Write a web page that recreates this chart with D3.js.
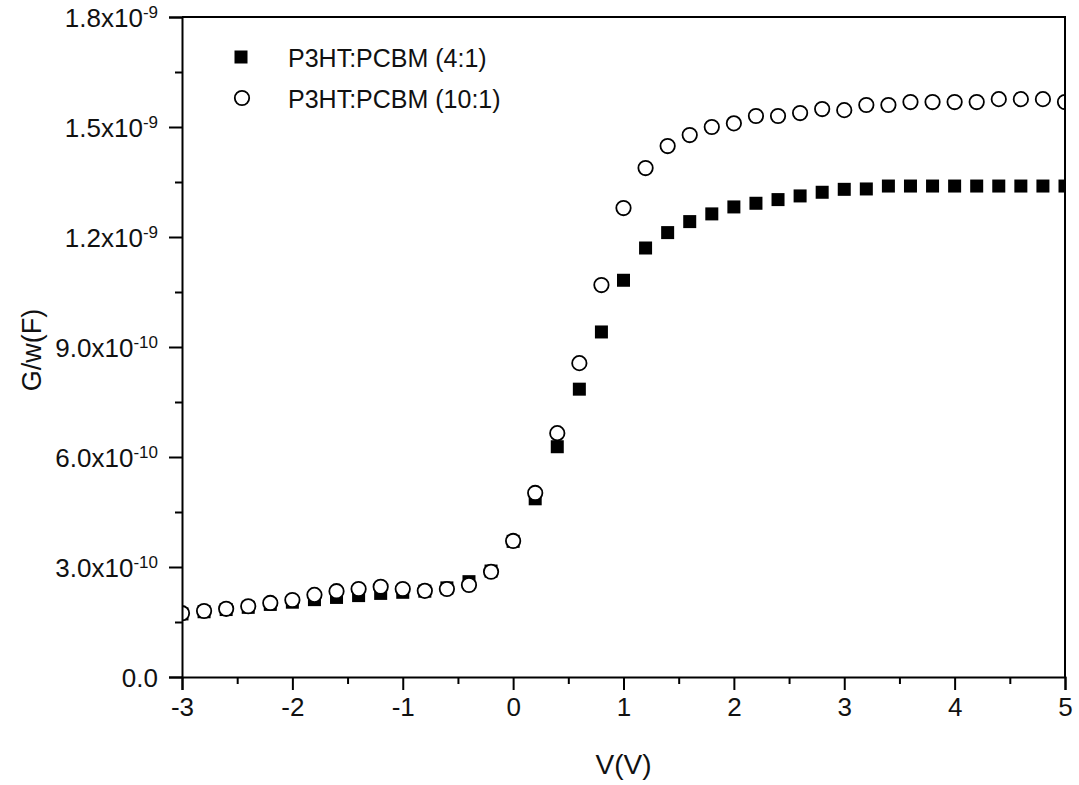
<!DOCTYPE html>
<html>
<head>
<meta charset="utf-8">
<script src="https://cdn.jsdelivr.net/npm/d3@7"></script>
<style>
  body { margin: 0; background: #fff; }
  svg { font-family: "Liberation Sans", Arial, sans-serif; }
</style>
</head>
<body>
<script>
// bias voltage, V
var voltage = [-3.0, -2.8, -2.6, -2.4, -2.2, -2.0, -1.8, -1.6, -1.4, -1.2, -1.0,
               -0.8, -0.6, -0.4, -0.2, 0.0, 0.2, 0.4, 0.6, 0.8, 1.0,
               1.2, 1.4, 1.6, 1.8, 2.0, 2.2, 2.4, 2.6, 2.8, 3.0,
               3.2, 3.4, 3.6, 3.8, 4.0, 4.2, 4.4, 4.6, 4.8, 5.0];

// G/w in units of 1e-9 F
var ratio4to1 = [0.172, 0.178, 0.184, 0.190, 0.198, 0.204, 0.211, 0.217, 0.222, 0.228, 0.231,
                 0.234, 0.243, 0.260, 0.289, 0.370, 0.486, 0.628, 0.785, 0.941, 1.082,
                 1.170, 1.212, 1.242, 1.263, 1.282, 1.292, 1.302, 1.312, 1.322, 1.330,
                 1.331, 1.339, 1.339, 1.339, 1.339, 1.339, 1.339, 1.339, 1.339, 1.339];

var ratio10to1 = [0.174, 0.180, 0.186, 0.193, 0.202, 0.210, 0.224, 0.234, 0.240, 0.246, 0.240,
                  0.235, 0.240, 0.251, 0.287, 0.371, 0.502, 0.665, 0.856, 1.069, 1.279,
                  1.388, 1.448, 1.478, 1.500, 1.510, 1.530, 1.530, 1.538, 1.549, 1.546,
                  1.560, 1.560, 1.568, 1.568, 1.568, 1.568, 1.576, 1.576, 1.576, 1.568];

var seriesNames = ["P3HT:PCBM (4:1)", "P3HT:PCBM (10:1)"];

var xTicks = [-3, -2, -1, 0, 1, 2, 3, 4, 5];
var xMinorTicks = [-2.5, -1.5, -0.5, 0.5, 1.5, 2.5, 3.5, 4.5];
var yTicks = [0, 0.3, 0.6, 0.9, 1.2, 1.5, 1.8];
var yMinorTicks = [0.15, 0.45, 0.75, 1.05, 1.35, 1.65];
// tick labels: mantissa + power of ten (null = no exponent)
var yTickMantissa = ["0.0", "3.0", "6.0", "9.0", "1.2", "1.5", "1.8"];
var yTickExponent = [null, "-10", "-10", "-10", "-9", "-9", "-9"];

(function () {
    var width = 1079, height = 785;
    var plotLeft = 182, plotRight = 1065, plotTop = 17, plotBottom = 677;

    var svg = d3.select("body").append("svg")
        .attr("width", width)
        .attr("height", height);

    var x = d3.scaleLinear().domain([-3, 5]).range([plotLeft, plotRight]);
    var y = d3.scaleLinear().domain([0, 1.8]).range([plotBottom, plotTop]);

    svg.append("defs").append("clipPath").attr("id", "plotclip")
        .append("rect")
        .attr("x", plotLeft).attr("y", plotTop)
        .attr("width", plotRight - plotLeft).attr("height", plotBottom - plotTop);

    // markers
    var marks = svg.append("g").attr("clip-path", "url(#plotclip)");
    var sq = 13;
    var rad = 7.2;

    marks.selectAll("rect.s1")
        .data(voltage)
        .enter().append("rect")
        .attr("class", "s1")
        .attr("x", function (d) { return x(d) - sq / 2; })
        .attr("y", function (d, i) { return y(ratio4to1[i]) - sq / 2; })
        .attr("width", sq)
        .attr("height", sq)
        .style("fill", "#000");

    marks.selectAll("circle.s2")
        .data(voltage)
        .enter().append("circle")
        .attr("class", "s2")
        .attr("cx", function (d) { return x(d); })
        .attr("cy", function (d, i) { return y(ratio10to1[i]); })
        .attr("r", rad)
        .style("fill", "#fff")
        .style("stroke", "#000")
        .style("stroke-width", 1.8);

    // frame (top + right)
    svg.append("path")
        .attr("d", "M" + plotLeft + "," + plotTop + "H" + plotRight + "V" + plotBottom)
        .style("fill", "none")
        .style("stroke", "#000")
        .style("stroke-width", 2);

    // x axis
    var xAxis = svg.append("g")
        .attr("transform", "translate(0," + plotBottom + ")")
        .call(d3.axisBottom(x).tickValues(xTicks).tickSize(13).tickPadding(8)
            .tickFormat(function (d) { return d; }));
    svg.append("g")
        .attr("transform", "translate(0," + plotBottom + ")")
        .call(d3.axisBottom(x).tickValues(xMinorTicks).tickSize(7).tickFormat(""))
        .select(".domain").remove();

    // y axis
    var yAxis = svg.append("g")
        .attr("transform", "translate(" + plotLeft + ",0)")
        .call(d3.axisLeft(y).tickValues(yTicks).tickSize(13).tickFormat(""));
    svg.append("g")
        .attr("transform", "translate(" + plotLeft + ",0)")
        .call(d3.axisLeft(y).tickValues(yMinorTicks).tickSize(7).tickFormat(""))
        .select(".domain").remove();

    svg.selectAll(".domain").style("stroke-width", 2).attr("stroke", "#000");
    svg.selectAll(".tick line").style("stroke-width", 2).attr("stroke", "#000");

    xAxis.attr("font-size", null);
    xAxis.selectAll(".tick text")
        .style("font-size", "26px")
        .attr("fill", "#111");

    // y tick labels with superscript exponent
    yAxis.attr("font-size", null);
    yAxis.selectAll(".tick").each(function (d, i) {
        var t = d3.select(this).append("text")
            .attr("x", -24)
            .attr("dy", "0.36em")
            .attr("text-anchor", "end")
            .attr("fill", "#111")
            .style("font-size", "26px");
        if (yTickExponent[i] == null) {
            t.text(yTickMantissa[i]);
        } else {
            t.append("tspan").text(yTickMantissa[i] + "x10");
            t.append("tspan")
                .attr("dy", "-0.55em")
                .style("font-size", "17px")
                .text(yTickExponent[i]);
        }
    });

    // axis titles
    svg.append("text")
        .attr("x", (plotLeft + plotRight) / 2)
        .attr("y", 774)
        .attr("text-anchor", "middle")
        .style("font-size", "28px")
        .attr("fill", "#111")
        .text("V(V)");

    svg.append("text")
        .attr("transform", "translate(41," + ((plotTop + plotBottom) / 2 + 3) + ") rotate(-90)")
        .attr("text-anchor", "middle")
        .style("font-size", "27px")
        .attr("fill", "#111")
        .text("G/w(F)");

    // legend
    var legend = svg.append("g");
    legend.append("rect")
        .attr("x", 241 - sq / 2).attr("y", 57 - sq / 2)
        .attr("width", sq).attr("height", sq)
        .style("fill", "#000");
    legend.append("circle")
        .attr("cx", 242).attr("cy", 98).attr("r", rad)
        .style("fill", "#fff").style("stroke", "#000").style("stroke-width", 1.8);
    legend.selectAll("text")
        .data(seriesNames)
        .enter().append("text")
        .attr("x", 288)
        .attr("y", function (d, i) { return 67 + i * 41; })
        .style("font-size", "25px")
        .attr("fill", "#111")
        .text(function (d) { return d; });
})();
</script>
</body>
</html>
